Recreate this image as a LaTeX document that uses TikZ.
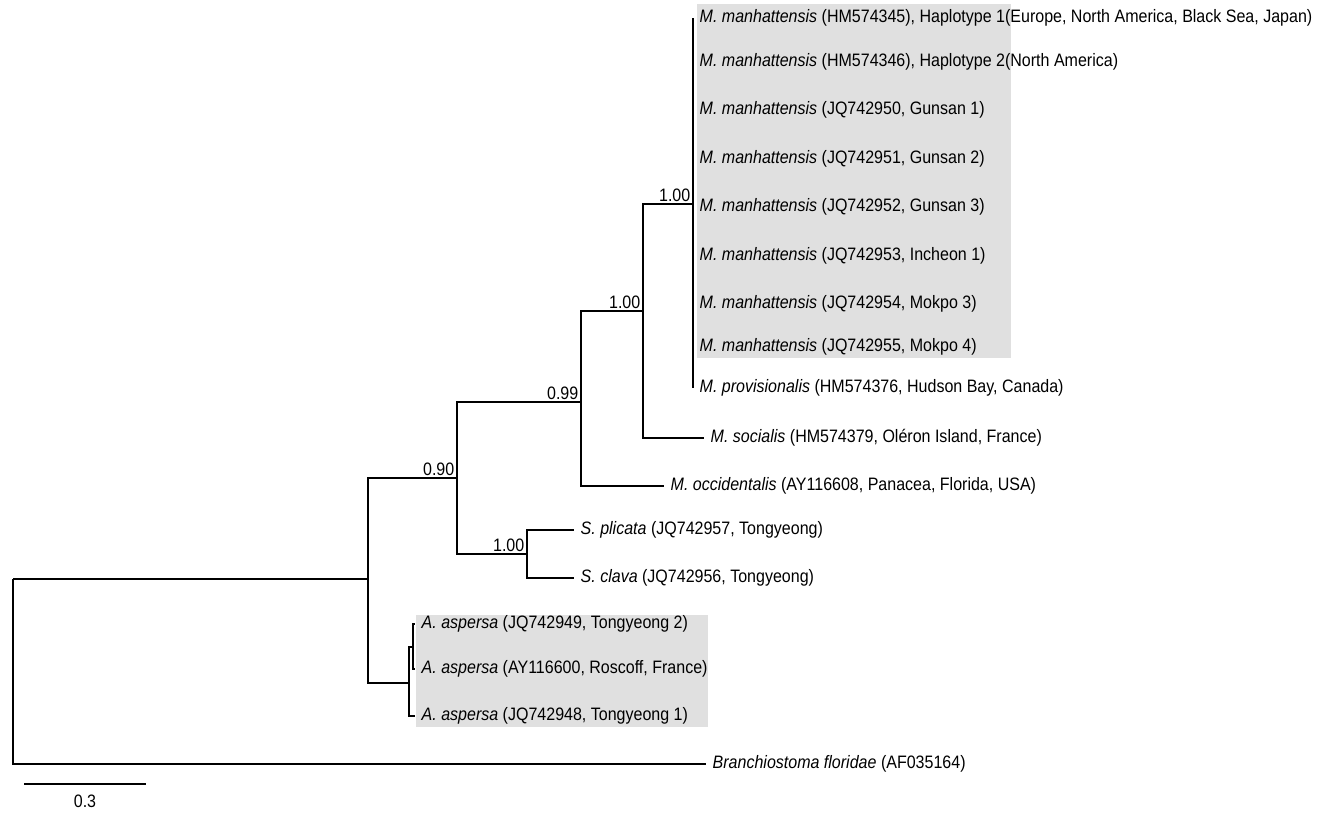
\documentclass[tikz,border=0pt]{standalone}
\usepackage{fontspec}
\setmainfont{Liberation Sans}[FakeStretch=0.89]
\usepackage{xcolor}
\usepackage{tikz}
\usetikzlibrary{positioning}
\definecolor{CladeGrey}{RGB}{224, 224, 224}
\definecolor{TreeInk}{RGB}{0, 0, 0}

\begin{document}
\begin{tikzpicture}[x=1pt, y=-1pt,
    branch/.style={draw=TreeInk, line width=2.1pt},
    taxon/.style={anchor=west, inner xsep=6.5pt, inner ysep=0pt,
      font=\fontsize{18}{20}\selectfont},
    support/.style={anchor=south east, inner sep=2.5pt,
      font=\fontsize{18}{20}\selectfont}
  ]
    \useasboundingbox (0,0) rectangle (1343,812);

    % shaded clades
    \fill[CladeGrey] (697,4) rectangle (1011,358);
    \fill[CladeGrey] (416,615) rectangle (708,727);

    % internal nodes
    \coordinate (root)   at (13,579);
    \coordinate (nAll)   at (368,579);
    \coordinate (nMolg)  at (457,478);
    \coordinate (nMolgB) at (581,402);
    \coordinate (nMolgC) at (643,311);
    \coordinate (nMan)   at (693,204);
    \coordinate (nSty)   at (527,554);
    \coordinate (nAsp)   at (409,683);
    \coordinate (nAspB)  at (413,647);

    % taxa
    \node[taxon] (man1) at (693,18)  {\textit{M. manhattensis} (HM574345), Haplotype 1(Europe, North America, Black Sea, Japan)};
    \node[taxon] (man2) at (693,62)  {\textit{M. manhattensis} (HM574346), Haplotype 2(North America)};
    \node[taxon] (man3) at (693,110) {\textit{M. manhattensis} (JQ742950, Gunsan 1)};
    \node[taxon] (man4) at (693,159) {\textit{M. manhattensis} (JQ742951, Gunsan 2)};
    \node[taxon] (man5) at (693,207) {\textit{M. manhattensis} (JQ742952, Gunsan 3)};
    \node[taxon] (man6) at (693,256) {\textit{M. manhattensis} (JQ742953, Incheon 1)};
    \node[taxon] (man7) at (693,304) {\textit{M. manhattensis} (JQ742954, Mokpo 3)};
    \node[taxon] (man8) at (693,347) {\textit{M. manhattensis} (JQ742955, Mokpo 4)};
    \node[taxon] (prov) at (693,388) {\textit{M. provisionalis} (HM574376, Hudson Bay, Canada)};
    \node[taxon] (soc)  at (704,438) {\textit{M. socialis} (HM574379, Oléron Island, France)};
    \node[taxon] (occ)  at (664,486) {\textit{M. occidentalis} (AY116608, Panacea, Florida, USA)};
    \node[taxon] (pli)  at (574,530) {\textit{S. plicata} (JQ742957, Tongyeong)};
    \node[taxon] (cla)  at (574,578) {\textit{S. clava} (JQ742956, Tongyeong)};
    \node[taxon] (aspT2) at (415,624) {\textit{A. aspersa} (JQ742949, Tongyeong 2)};
    \node[taxon] (aspRo) at (415,669) {\textit{A. aspersa} (AY116600, Roscoff, France)};
    \node[taxon] (aspT1) at (415,716) {\textit{A. aspersa} (JQ742948, Tongyeong 1)};
    \node[taxon] (bra)  at (706,764) {\textit{Branchiostoma floridae} (AF035164)};

    % branches
    \draw[branch] (root) |- (nAll);
    \draw[branch] (root) |- (bra.west);
    \draw[branch] (nAll) |- (nMolg);
    \draw[branch] (nAll) |- (nAsp);
    \draw[branch] (nMolg) |- (nMolgB);
    \draw[branch] (nMolg) |- (nSty);
    \draw[branch] (nMolgB) |- (nMolgC);
    \draw[branch] (nMolgB) |- (occ.west);
    \draw[branch] (nMolgC) |- (nMan);
    \draw[branch] (nMolgC) |- (soc.west);
    \foreach \t in {man1,man2,man3,man4,man5,man6,man7,man8,prov}
      \draw[branch] (nMan) |- (\t.west);
    \draw[branch] (nSty) |- (pli.west);
    \draw[branch] (nSty) |- (cla.west);
    \draw[branch] (nAsp) |- (nAspB);
    \draw[branch] (nAsp) |- (aspT1.west);
    \draw[branch] (nAspB) |- (aspT2.west);
    \draw[branch] (nAspB) |- (aspRo.west);

    % support values
    \node[support] (s090) at (nMolg)  {0.90};
    \node[support] (s099) at (nMolgB) {0.99};
    \node[support] (s100a) at (nMolgC) {1.00};
    \node[support] (s100b) at (nMan)   {1.00};
    \node[support] (s100c) at (nSty)   {1.00};

    % scale bar
    \coordinate (bar0) at (24,784);
    \coordinate (bar1) at (146,784);
    \draw[branch] (bar0) -- (bar1);
    \node[font=\fontsize{18}{20}\selectfont] (barlbl) at (85,801) {0.3};
\end{tikzpicture}
\end{document}
